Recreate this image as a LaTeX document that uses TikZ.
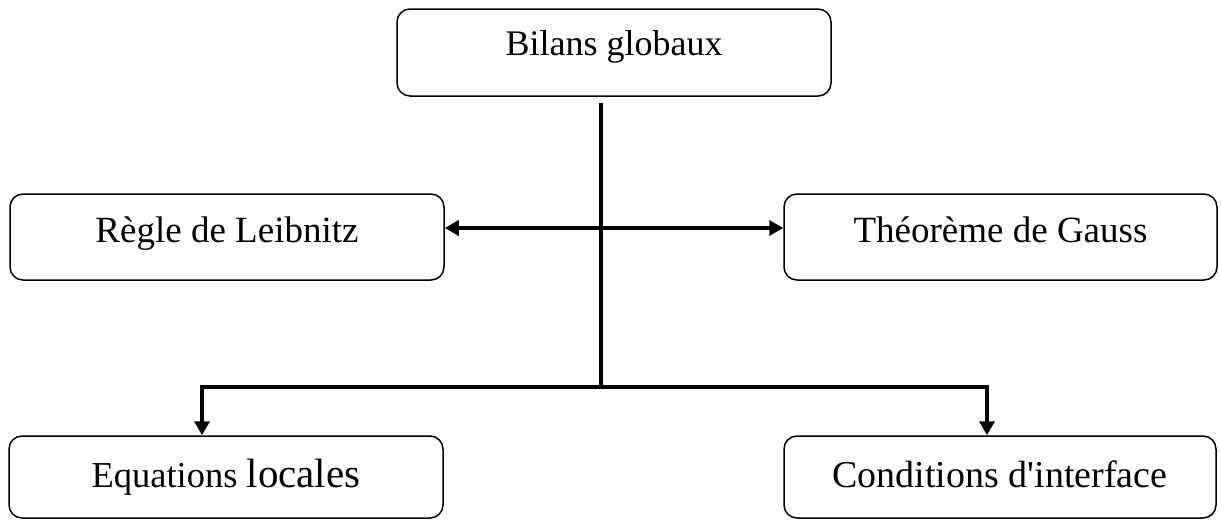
\documentclass[tikz,border=0pt]{standalone}
\usepackage{fontspec}
\setmainfont{Liberation Serif}[Ligatures=TeXOff]
\usetikzlibrary{arrows.meta}
\begin{document}
\begin{tikzpicture}[x=1pt,y=-1pt,
  box/.style={draw, line width=1.5pt, rounded corners=13pt, inner sep=0pt, align=center},
  conn/.style={line width=3.6pt, line join=miter},
  tip/.style={-{Triangle[length=14pt,width=15pt]}},
  tips/.style={{Triangle[length=14pt,width=15pt]}-{Triangle[length=14pt,width=15pt]}}]
\useasboundingbox (0,0) rectangle (1221,520);
\node[box, minimum width=434pt, minimum height=87pt, text height=46pt, text depth=41pt,
      font=\fontsize{36}{40}\selectfont] (top) at (614,52.5) {Bilans globaux};
\node[box, minimum width=434pt, minimum height=86pt, text height=48pt, text depth=38pt,
      font=\fontsize{37}{40}\selectfont] (leib) at (227,237) {Règle de Leibnitz};
\node[box, minimum width=433pt, minimum height=86pt, text height=48pt, text depth=38pt,
      font=\fontsize{37}{40}\selectfont] (gauss) at (1000.5,237) {Théorème de Gauss};
\node[box, minimum width=434pt, minimum height=82pt, text height=51pt, text depth=31pt]
      (eq) at (226,477) {{\fontsize{36.5}{40}\selectfont Equations }{\fontsize{41}{44}\selectfont locales}};
\node[box, minimum width=432pt, minimum height=82pt, text height=51pt, text depth=31pt,
      font=\fontsize{38}{42}\selectfont] (cond) at (1000,477) {Conditions d'interface};
\coordinate (vt) at (601,103);
\coordinate (j) at (601,387);
\coordinate (hy) at (601,228);
\coordinate (dl) at (202,387);
\coordinate (dr) at (987,387);
\draw[conn] (vt) -- (j);
\draw[conn, tips] (leib.east |- hy) -- (gauss.west |- hy);
\draw[conn, tip] (j) -- (dl) -- (dl |- eq.north);
\draw[conn, tip] (j) -- (dr) -- (dr |- cond.north);
\end{tikzpicture}
\end{document}
